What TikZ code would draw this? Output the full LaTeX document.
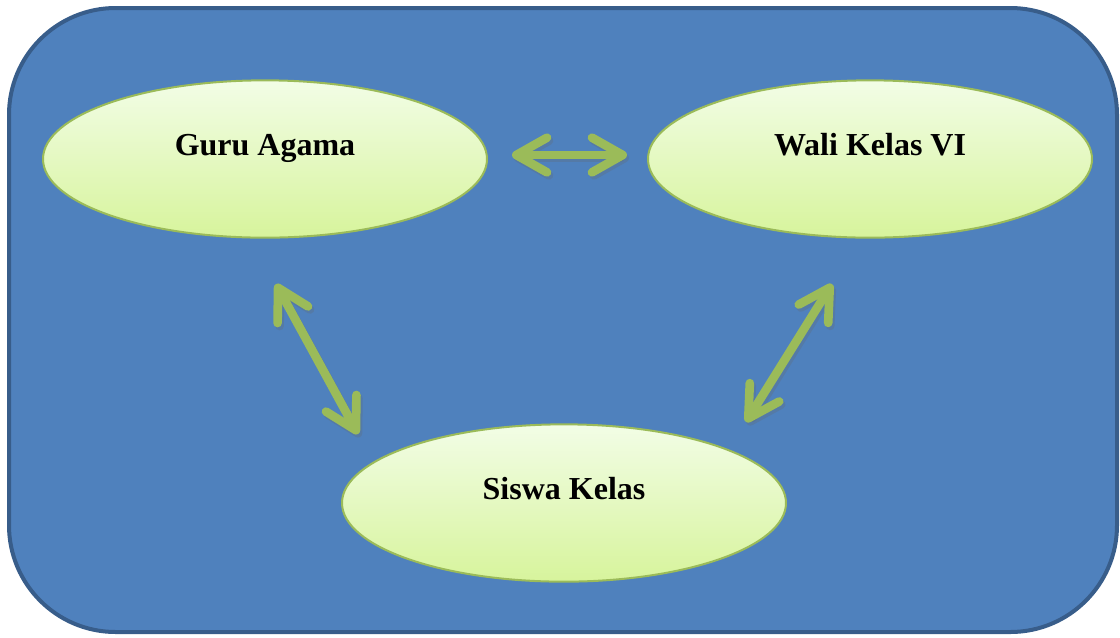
\documentclass[tikz,border=0pt]{standalone}
\usepackage{fontspec}
\setmainfont{Liberation Serif}
\usetikzlibrary{arrows.meta,shapes.geometric}
\definecolor{bgblue}{HTML}{4F81BD}
\definecolor{bgedge}{HTML}{385D8A}
\definecolor{leaf}{HTML}{9BBB59}
\definecolor{elltop}{HTML}{F2FDE6}
\definecolor{ellbot}{HTML}{D7F49C}
\tikzset{
  px/.style={x=0.75pt,y=-0.75pt},
  oval/.style={ellipse, draw=leaf, line width=1.5pt, top color=elltop, bottom color=ellbot,
    minimum width=333pt, minimum height=118pt, inner sep=0pt,
    font=\fontsize{24}{27}\selectfont\bfseries, text=black},
  link/.style={draw=leaf, line width=6.5pt, line cap=round,
    {Straight Barb[round,length=23pt,width=26pt]}-{Straight Barb[round,length=23pt,width=26pt]}},
  linkshadow/.style={draw=black!60, opacity=0.25, line width=6.5pt, line cap=round,
    {Straight Barb[round,length=23pt,width=26pt]}-{Straight Barb[round,length=23pt,width=26pt]}}
}
\newcommand{\up}[1]{\raisebox{2.5pt}[0pt][0pt]{#1}}
\begin{document}
\begin{tikzpicture}[px]
\useasboundingbox (0,0) rectangle (1120,637);
\draw[fill=bgblue, draw=bgedge, line width=3pt, rounded corners=80pt] (9,8) rectangle (1117,632);
\node[oval] (guru) at (265,159) {\up{Guru Agama}};
\node[oval] (wali) at (870,159) {\up{Wali Kelas VI}};
\node[oval] (siswa) at (564,503) {\up{Siswa Kelas}};
\coordinate (h1) at (512,155);
\coordinate (h2) at (627,155);
\coordinate (d1a) at (276,284);
\coordinate (d1b) at (358,434);
\coordinate (d2a) at (832,284);
\coordinate (d2b) at (746,422);
\foreach \a/\b in {h1/h2,d1a/d1b,d2a/d2b}{
  \draw[linkshadow] ([shift={(2,3)}]\a) -- ([shift={(2,3)}]\b);
}
\draw[link] (h1) -- (h2);
\draw[link] (d1a) -- (d1b);
\draw[link] (d2a) -- (d2b);
\end{tikzpicture}
\end{document}
